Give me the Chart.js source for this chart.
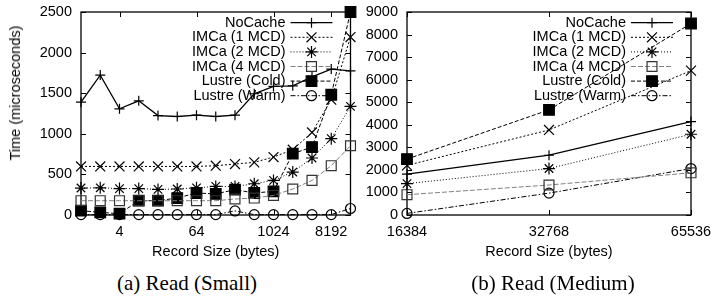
<!DOCTYPE html>
<html>
<head>
<meta charset="utf-8">
<script src="https://cdn.jsdelivr.net/npm/chart.js@4/dist/chart.umd.min.js"></script>
<style>
    body { margin: 0; width: 711px; height: 297px; background: #fff; position: relative; overflow: hidden;
           font-family: "Liberation Sans", Arial, sans-serif; color: #000; }
    .box { position: absolute; top: 0; height: 262px; }
    #box-small { left: 0; width: 360px; }
    #box-medium { left: 355px; width: 356px; }
    .caption { position: absolute; top: 271px; font-family: "Liberation Serif", "Times New Roman", serif;
               font-size: 21px; white-space: nowrap; transform: translateX(-50%); }
    #ytitle { position: absolute; left: 14.5px; top: 93px; font-size: 14.5px; white-space: nowrap;
              transform: translate(-50%, -50%) rotate(-90deg); }
</style>
</head>
<body>
<div class="box" id="box-small"><canvas id="grafico-small" width="360" height="262"></canvas></div>
<div class="box" id="box-medium"><canvas id="grafico-medium" width="356" height="262"></canvas></div>
<div id="ytitle">Time (microseconds)</div>
<div class="caption" style="left:187px">(a) Read (Small)</div>
<div class="caption" style="left:553px">(b) Read (Medium)</div>
<script>
// Dados
const seriesNames = ['NoCache', 'IMCa (1 MCD)', 'IMCa (2 MCD)', 'IMCa (4 MCD)', 'Lustre (Cold)', 'Lustre (Warm)'];

// (a) Read (Small)
const smallSizes = [1, 2, 4, 8, 16, 32, 64, 128, 256, 512, 1024, 2048, 4096, 8192, 16384];
const smallTicks = [4, 64, 1024, 8192];
const smallYTicks = [0, 500, 1000, 1500, 2000, 2500];
const smallNoCache    = [1390, 1723, 1308, 1406, 1225, 1213, 1229, 1213, 1229, 1493, 1583, 1591, 1702, 1797, 1776];
const smallImca1      = [598, 598, 598, 598, 598, 598, 598, 607, 628, 648, 714, 804, 1017, 1420, 2192];
const smallImca2      = [332, 335, 325, 325, 315, 320, 335, 352, 352, 385, 426, 529, 702, 940, 1338];
const smallImca4      = [176, 176, 176, 176, 176, 176, 176, 176, 197, 209, 241, 320, 426, 607, 853];
const smallLustreCold = [53, 32, 16, 176, 176, 209, 271, 260, 312, 271, 291, 755, 837, 1481, 2500];
const smallLustreWarm = [5, 5, 5, 5, 5, 5, 5, 5, 50, 5, 5, 5, 5, 5, 80];

// (b) Read (Medium)
const mediumSizes = [16384, 32768, 65536];
const mediumTicks = [16384, 32768, 65536];
const mediumYTicks = [0, 1000, 2000, 3000, 4000, 5000, 6000, 7000, 8000, 9000];
const mediumNoCache    = [1810, 2650, 4140];
const mediumImca1      = [2200, 3770, 6400];
const mediumImca2      = [1390, 2060, 3580];
const mediumImca4      = [900, 1330, 1870];
const mediumLustreCold = [2480, 4660, 8490];
const mediumLustreWarm = [70, 970, 2060];

// Estilo de cada série (estilo gnuplot)
const seriesLooks = [
    { color: '#000', mark: '#000', dash: [], width: 1.3, point: 'cross', radius: 5, fill: 'rgba(0,0,0,0)' },
    { color: '#000', mark: '#000', dash: [2, 2], width: 1, point: 'crossRot', radius: 7, fill: 'rgba(0,0,0,0)' },
    { color: '#000', mark: '#000', dash: [1, 2], width: 1, point: 'star', radius: 6, fill: 'rgba(0,0,0,0)' },
    { color: '#808080', mark: '#333', dash: [5, 2], width: 1, point: 'rect', radius: 7, fill: 'rgba(0,0,0,0)' },
    { color: '#000', mark: '#000', dash: [4, 2], width: 1, point: 'rect', radius: 7.5, fill: '#000' },
    { color: '#000', mark: '#000', dash: [5, 2, 1.5, 2], width: 1, point: 'circle', radius: 5, fill: 'rgba(0,0,0,0)' }
];

Chart.defaults.font.family = '"Liberation Sans", Arial, sans-serif';
Chart.defaults.font.size = 14.5;
Chart.defaults.color = '#000';

function line(ctx, x1, y1, x2, y2) {
    ctx.beginPath();
    ctx.moveTo(x1, y1);
    ctx.lineTo(x2, y2);
    ctx.stroke();
}

// Moldura, marcas internas e legenda no estilo gnuplot
const gnuplotPlugin = {
    id: 'gnuplot',
    beforeDatasetsDraw(chart) {
        const ctx = chart.ctx;
        const a = chart.chartArea;
        const xs = chart.scales.x, ys = chart.scales.y;
        ctx.save();
        ctx.strokeStyle = '#000';
        ctx.lineWidth = 1;
        ctx.setLineDash([]);
        xs.ticks.forEach(t => {
            const px = Math.round(xs.getPixelForValue(t.value)) + 0.5;
            line(ctx, px, a.bottom, px, a.bottom - 5);
            line(ctx, px, a.top, px, a.top + 5);
        });
        ys.ticks.forEach(t => {
            const py = Math.round(ys.getPixelForValue(t.value)) + 0.5;
            line(ctx, a.left, py, a.left + 5, py);
            line(ctx, a.right, py, a.right - 5, py);
        });
        ctx.lineWidth = 1.3;
        ctx.strokeRect(a.left, a.top, a.right - a.left, a.bottom - a.top);
        ctx.restore();
    },
    afterDatasetsDraw(chart) {
        const ctx = chart.ctx;
        const a = chart.chartArea;
        ctx.save();
        ctx.font = '14.5px "Liberation Sans", Arial, sans-serif';
        ctx.textAlign = 'right';
        ctx.textBaseline = 'middle';
        chart.data.datasets.forEach((ds, i) => {
            const look = seriesLooks[i];
            const y = a.top + 10.7 + i * 14.6;
            ctx.fillStyle = '#000';
            ctx.fillText(ds.label, a.right - 65, y);
            ctx.strokeStyle = look.color;
            ctx.lineWidth = look.width;
            ctx.setLineDash(look.dash);
            line(ctx, a.right - 60, y, a.right - 18, y);
            ctx.setLineDash([]);
            ctx.strokeStyle = look.mark;
            ctx.fillStyle = look.fill;
            ctx.lineWidth = 1.2;
            Chart.helpers.drawPoint(ctx, { pointStyle: look.point, radius: look.radius, rotation: 0, borderWidth: 1.2 },
                a.right - 39, y);
        });
        ctx.restore();
    }
};

function buildDatasets(sizes, series) {
    return series.map((vals, i) => {
        const look = seriesLooks[i];
        return {
            label: seriesNames[i],
            data: sizes.map((s, k) => ({ x: s, y: vals[k] })),
            borderColor: look.color,
            borderWidth: look.width,
            borderDash: look.dash,
            pointStyle: look.point,
            pointRadius: look.radius,
            pointBorderColor: look.mark,
            pointBackgroundColor: look.fill,
            pointBorderWidth: 1.2,
            tension: 0,
            fill: false,
            clip: false
        };
    });
}

function makeChart(canvasId, cfg) {
    const ctx = document.getElementById(canvasId).getContext('2d');
    return new Chart(ctx, {
        type: 'line',
        data: { datasets: buildDatasets(cfg.sizes, cfg.series) },
        options: {
            responsive: false,
            animation: false,
            events: [],
            layout: { padding: { left: 0, right: cfg.padRight, top: 12, bottom: 0 } },
            plugins: { legend: { display: false }, tooltip: { enabled: false } },
            scales: {
                x: {
                    type: 'logarithmic',
                    min: cfg.sizes[0],
                    max: cfg.sizes[cfg.sizes.length - 1],
                    grid: { display: false, drawTicks: false },
                    border: { display: false },
                    afterBuildTicks: s => { s.ticks = cfg.xTicks.map(v => ({ value: v })); },
                    afterFit: s => { s.height = 47; s.paddingLeft = 0; s.paddingRight = 0; },
                    ticks: { autoSkip: false, maxRotation: 0, padding: 8, callback: v => String(v) },
                    title: { display: true, text: 'Record Size (bytes)', padding: { top: 0, bottom: 1 } }
                },
                y: {
                    min: 0,
                    max: cfg.yTicks[cfg.yTicks.length - 1],
                    grid: { display: false, drawTicks: false },
                    border: { display: false },
                    afterBuildTicks: s => { s.ticks = cfg.yTicks.map(v => ({ value: v })); },
                    afterFit: s => { s.width = cfg.yWidth; s.paddingTop = 0; s.paddingBottom = 0; },
                    ticks: { padding: 9, callback: v => String(v) }
                }
            }
        },
        plugins: [gnuplotPlugin]
    });
}

makeChart('grafico-small', {
    sizes: smallSizes,
    series: [smallNoCache, smallImca1, smallImca2, smallImca4, smallLustreCold, smallLustreWarm],
    xTicks: smallTicks,
    yTicks: smallYTicks,
    yWidth: 81,
    padRight: 9.5
});

makeChart('grafico-medium', {
    sizes: mediumSizes,
    series: [mediumNoCache, mediumImca1, mediumImca2, mediumImca4, mediumLustreCold, mediumLustreWarm],
    xTicks: mediumTicks,
    yTicks: mediumYTicks,
    yWidth: 52,
    padRight: 20
});
</script>
</body>
</html>
